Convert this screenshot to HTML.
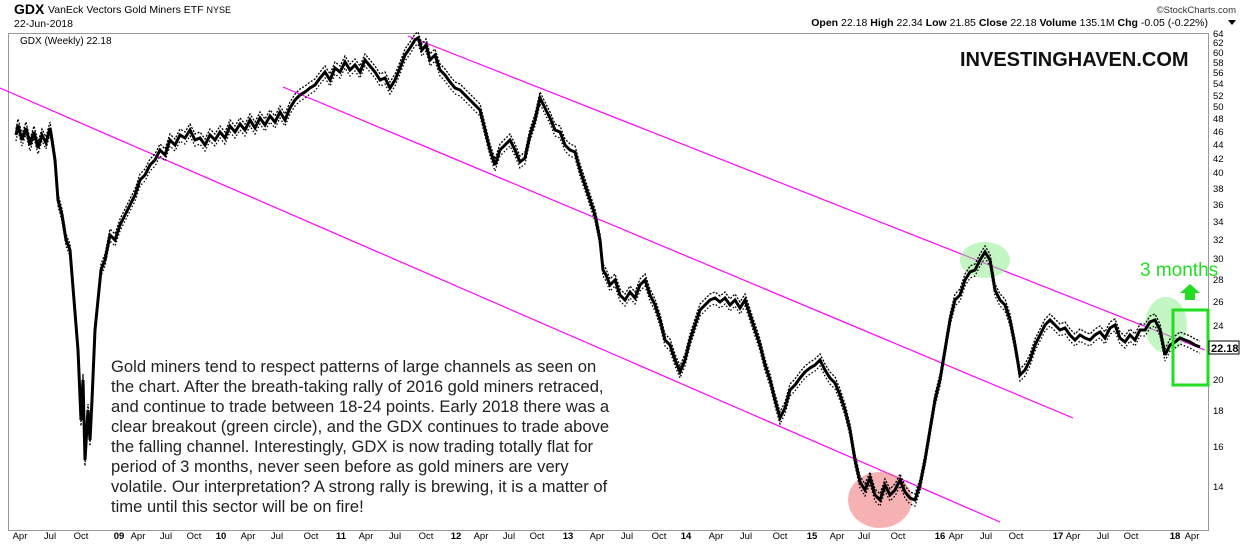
<!DOCTYPE html>
<html><head><meta charset="utf-8"><style>
html,body{margin:0;padding:0;background:#fff;width:1240px;height:546px;overflow:hidden}
svg{display:block;font-family:"Liberation Sans",sans-serif}
</style></head><body>
<svg width="1240" height="546" xmlns="http://www.w3.org/2000/svg" xmlns:xlink="http://www.w3.org/1999/xlink">
<rect width="1240" height="546" fill="#fff"/>
<text x="14" y="14" font-size="14" font-weight="bold">GDX</text>
<text x="48" y="13" font-size="10.5">VanEck Vectors Gold Miners ETF <tspan font-size="9">NYSE</tspan></text>
<text x="14" y="27" font-size="10.5">22-Jun-2018</text>
<text x="1236" y="13" font-size="9.5" text-anchor="end" fill="#333">©StockCharts.com</text>
<text x="1208" y="26" font-size="10.5" text-anchor="end"><tspan font-weight="bold">Open</tspan> 22.18  <tspan font-weight="bold">High</tspan> 22.34  <tspan font-weight="bold">Low</tspan> 21.85  <tspan font-weight="bold">Close</tspan> 22.18  <tspan font-weight="bold">Volume</tspan> 135.1M  <tspan font-weight="bold">Chg</tspan> -0.05 (-0.22%)</text>
<path d="M1228,20 l8,0 l-4,5z" fill="#000"/>
<rect x="8.5" y="33.5" width="1200" height="497" fill="none" stroke="#999"/>
<text x="20" y="44" font-size="10">GDX (Weekly) 22.18</text>
<g stroke="#f0f" stroke-width="1.2">
<line x1="0" y1="88" x2="1000" y2="522"/>
<line x1="283" y1="87" x2="1073" y2="418"/>
<line x1="408" y1="36" x2="1205" y2="350"/>
</g>
<ellipse cx="985" cy="260" rx="25" ry="18" fill="#8e8" fill-opacity="0.5"/>
<ellipse cx="1166" cy="325" rx="21" ry="28" fill="#8e8" fill-opacity="0.5"/>
<ellipse cx="880" cy="500" rx="32" ry="28" fill="#e66" fill-opacity="0.5"/>
<defs>
<path id="px" fill="none" stroke-linejoin="miter" stroke-miterlimit="3" d="M16 135 L18 125 L22 140 L26 128 L30 145 L34 132 L38 148 L42 135 L46 143 L50 128 L52 140 L55 160 L58 200 L62 215 L66 240 L70 250 L74 300 L78 350 L81 420 L83 380 L85 460 L88 410 L90 440 L92 400 L95 330 L98 300 L101 270 L105 260 L110 235 L115 240 L120 225 L125 215 L130 205 L135 195 L140 180 L145 175 L150 165 L155 160 L160 150 L165 155 L170 140 L175 145 L180 135 L185 138 L190 130 L195 140 L200 138 L205 145 L210 135 L215 140 L220 132 L225 138 L230 126 L235 132 L240 124 L245 130 L250 120 L255 128 L260 118 L265 125 L270 116 L275 122 L280 112 L285 120 L290 108 L295 100 L300 95 L305 92 L310 88 L315 85 L320 78 L325 72 L330 80 L335 68 L340 72 L345 62 L350 70 L355 65 L360 72 L365 60 L370 66 L375 72 L380 80 L385 78 L390 88 L395 80 L400 68 L405 55 L410 48 L415 40 L418 38 L422 50 L426 45 L430 60 L435 55 L440 70 L445 75 L450 82 L455 88 L460 90 L465 95 L470 100 L475 105 L480 110 L485 130 L490 150 L495 165 L500 150 L505 145 L510 140 L515 150 L520 162 L525 158 L530 135 L535 120 L540 98 L545 108 L550 118 L555 130 L560 132 L565 145 L570 150 L575 152 L580 170 L585 185 L590 200 L595 215 L600 240 L603 270 L606 275 L610 285 L615 280 L620 295 L625 300 L630 292 L635 298 L640 285 L645 280 L650 295 L655 305 L660 320 L665 340 L670 345 L675 360 L680 372 L685 360 L690 340 L695 325 L700 310 L705 305 L710 300 L715 298 L720 302 L725 298 L730 305 L735 300 L740 308 L745 300 L750 315 L755 330 L760 345 L765 365 L770 380 L775 400 L780 418 L785 408 L790 390 L795 385 L800 378 L805 372 L810 368 L815 365 L820 360 L825 370 L830 378 L835 383 L840 395 L845 410 L850 430 L855 460 L860 482 L865 490 L870 478 L875 495 L880 500 L885 485 L890 495 L895 490 L900 480 L905 492 L910 498 L915 500 L920 485 L925 460 L930 430 L935 400 L940 380 L945 350 L950 320 L955 300 L960 295 L965 280 L970 272 L975 270 L980 260 L985 252 L990 260 L995 290 L1000 300 L1005 305 L1010 320 L1015 345 L1020 375 L1025 370 L1030 360 L1035 345 L1040 335 L1045 325 L1050 320 L1055 325 L1060 330 L1065 328 L1070 335 L1075 340 L1080 335 L1085 338 L1090 340 L1095 335 L1100 332 L1105 338 L1110 328 L1115 325 L1120 338 L1125 342 L1130 335 L1135 340 L1140 330 L1145 330 L1150 322 L1155 320 L1160 330 L1165 355 L1170 345 L1175 342 L1180 338 L1185 340 L1190 342 L1195 345 L1200 347"/>
</defs>
<g stroke="#000">
<use xlink:href="#px" href="#px" stroke-width="1.3" stroke-dasharray="2 1.5" transform="translate(0,-6)"/>
<use xlink:href="#px" href="#px" stroke-width="1.3" stroke-dasharray="1.5 2" transform="translate(0,6)"/>
<use xlink:href="#px" href="#px" stroke-width="3"/>
</g>
<rect x="1173" y="310" width="35" height="75" fill="none" stroke="#2d2" stroke-width="3"/>
<path d="M1185,300 h10 v-7 h5 l-10,-9 l-10,9 h5z" fill="#2d2"/>
<text x="1140" y="276" font-size="19" fill="#2d2">3 months</text>
<text x="960" y="66" font-size="20" font-weight="bold" fill="#111">INVESTINGHAVEN.COM</text>
<g font-size="16.6" fill="#222">
<text x="111" y="372">Gold miners tend to respect patterns of large channels as seen on</text>
<text x="111" y="392">the chart. After the breath-taking rally of 2016 gold miners retraced,</text>
<text x="111" y="412">and continue to trade between 18-24 points. Early 2018 there was a</text>
<text x="111" y="432">clear breakout (green circle), and the GDX continues to trade above</text>
<text x="111" y="452">the falling channel. Interestingly, GDX is now trading totally flat for</text>
<text x="111" y="472">period of 3 months, never seen before as gold miners are very</text>
<text x="111" y="492">volatile. Our interpretation? A strong rally is brewing, it is a matter of</text>
<text x="111" y="512">time until this sector will be on fire!</text>
</g>
<g font-size="9.5">
<text x="1213" y="37">64</text><text x="1213" y="46">62</text><text x="1213" y="56">60</text><text x="1213" y="66">58</text><text x="1213" y="76">56</text><text x="1213" y="87">54</text><text x="1213" y="99">52</text><text x="1213" y="110">50</text><text x="1213" y="122">48</text><text x="1213" y="135">46</text><text x="1213" y="148">44</text><text x="1213" y="162">42</text><text x="1213" y="176">40</text><text x="1213" y="192">38</text><text x="1213" y="208">36</text><text x="1213" y="225">34</text><text x="1213" y="243">32</text><text x="1213" y="262">30</text><text x="1213" y="283">28</text><text x="1213" y="305">26</text><text x="1213" y="329">24</text><text x="1213" y="383">20</text><text x="1213" y="414">18</text><text x="1213" y="450">16</text><text x="1213" y="490">14</text>
</g>
<g font-size="9.5" text-anchor="middle">
<text x="20" y="539">Apr</text><text x="50" y="539">Jul</text><text x="81" y="539">Oct</text><text x="119" y="539" font-weight="bold">09</text><text x="138" y="539">Apr</text><text x="166" y="539">Jul</text><text x="194" y="539">Oct</text><text x="221" y="539" font-weight="bold">10</text><text x="248" y="539">Apr</text><text x="277" y="539">Jul</text><text x="311" y="539">Oct</text><text x="341" y="539" font-weight="bold">11</text><text x="366" y="539">Apr</text><text x="395" y="539">Jul</text><text x="426" y="539">Oct</text><text x="456" y="539" font-weight="bold">12</text><text x="481" y="539">Apr</text><text x="509" y="539">Jul</text><text x="537" y="539">Oct</text><text x="568" y="539" font-weight="bold">13</text><text x="597" y="539">Apr</text><text x="627" y="539">Jul</text><text x="659" y="539">Oct</text><text x="686" y="539" font-weight="bold">14</text><text x="716" y="539">Apr</text><text x="746" y="539">Jul</text><text x="780" y="539">Oct</text><text x="812" y="539" font-weight="bold">15</text><text x="837" y="539">Apr</text><text x="864" y="539">Jul</text><text x="898" y="539">Oct</text><text x="940" y="539" font-weight="bold">16</text><text x="956" y="539">Apr</text><text x="986" y="539">Jul</text><text x="1016" y="539">Oct</text><text x="1058" y="539" font-weight="bold">17</text><text x="1073" y="539">Apr</text><text x="1103" y="539">Jul</text><text x="1131" y="539">Oct</text><text x="1175" y="539" font-weight="bold">18</text><text x="1192" y="539">Apr</text>
</g>
<rect x="1209" y="341" width="30" height="13" fill="#fff" stroke="#000"/>
<text x="1211" y="352" font-size="11" font-weight="bold">22.18</text>
</svg>
</body></html>
